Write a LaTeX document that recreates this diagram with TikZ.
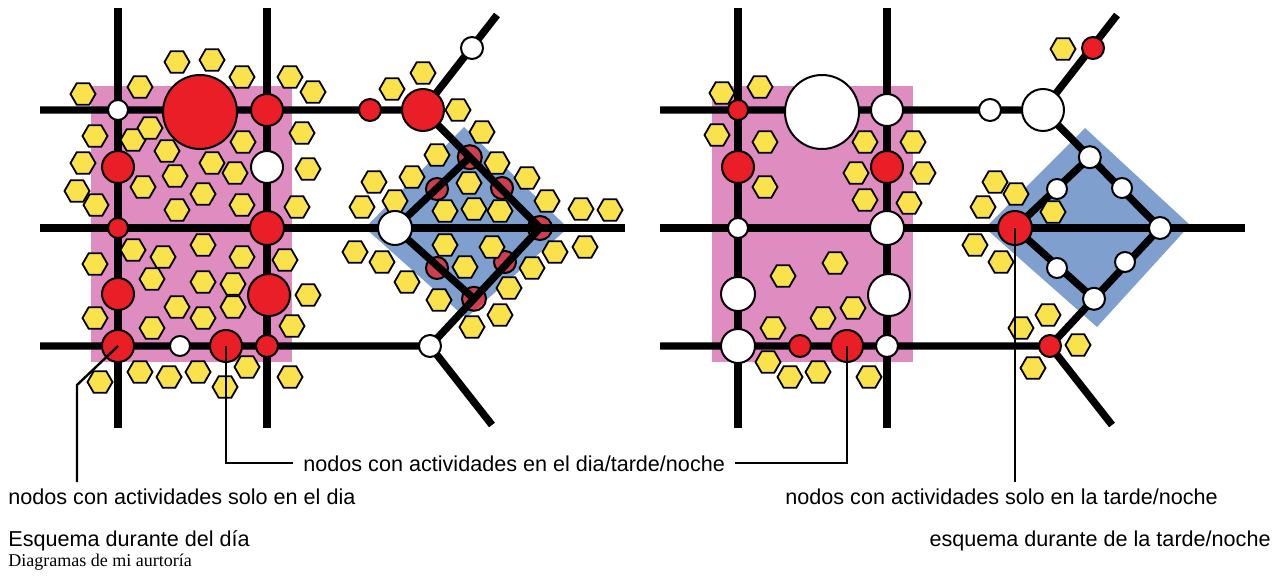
\documentclass[tikz,border=0pt]{standalone}
\usepackage{fontspec}
\setmainfont{Liberation Serif}
\setsansfont{Liberation Sans}
\usetikzlibrary{shapes.geometric, calc}

\definecolor{nodered}{RGB}{233,30,38}
\definecolor{zonepink}{RGB}{223,140,192}
\definecolor{zoneblue}{RGB}{127,160,207}
\definecolor{hexyellow}{RGB}{250,226,76}

\tikzset{
  street/.style={line width=3.7pt, black, line join=round},
  stop/.style={circle, draw=black, line width=1pt, inner sep=0pt, minimum size=#1pt},
  active/.style={stop=#1, fill=nodered},
  idle/.style={stop=#1, fill=white},
  covered/.style={stop=#1, fill=nodered, fill opacity=0.75},
  activity/.style={regular polygon, regular polygon sides=6, draw=black, fill=hexyellow,
    line width=0.9pt, inner sep=0pt, minimum size=12.5pt},
  callout/.style={line width=1.2pt, black},
  caption/.style={font=\sffamily\fontsize{10.8}{13}\selectfont, inner sep=0pt},
}

\begin{document}
\begin{tikzpicture}[x=0.5pt, y=-0.5pt]
    \useasboundingbox (0,0) rectangle (1277,577);

    % Street skeleton, the same for both schemes
    \foreach \p/\dx in {day/0, night/620} {
      \begin{scope}[shift={(\dx,0)}, name prefix=\p-]
        \coordinate (nA) at (118,8);    \coordinate (sA) at (118,428);
        \coordinate (nB) at (267,8);    \coordinate (sB) at (267,428);
        \coordinate (wTop) at (40,110); \coordinate (wMid) at (40,228);
        \coordinate (wLow) at (40,346); \coordinate (eMid) at (625,228);
        \coordinate (hub) at (423,110); \coordinate (ne) at (497,15);
        \coordinate (west) at (395,228); \coordinate (east) at (540,228);
        \coordinate (fork) at (430,346); \coordinate (se) at (492,425);
        \coordinate (top) at ($(hub)!0.4!(east)$);
        \coordinate (bottom) at ($(east)!0.6!(fork)$);
      \end{scope}
    }

    % Zones
    \fill[zonepink] (91,86) rectangle (292,362);
    \fill[zonepink] (712,86) rectangle (913,362);
    \fill[zoneblue] (464,127) -- (568,228) -- (466,318) -- (365,228) -- cycle;
    \fill[zoneblue] (1085,128) -- (1190,225) -- (1097,327) -- (985,228) -- cycle;

    % Day: stops seen through the blue zone
    \begin{scope}[name prefix=day-]
        \node[covered=12] (k2) at (top) {};
        \node[covered=12] (k3) at (east) {};
        \node[covered=12] (k4) at (bottom) {};
        \node[covered=11] (m1) at (437,189) {};
        \node[covered=11] (m2) at (502,188) {};
        \node[covered=11] (m3) at (437,268) {};
        \node[covered=11] (m4) at (505,262) {};
    \end{scope}

    % Streets
    \foreach \p in {day, night} {
      \begin{scope}[name prefix=\p-]
        \draw[street] (nA) -- (sA);
        \draw[street] (nB) -- (sB);
        \draw[street] (wTop) -- (hub) -- (ne);
        \draw[street] (wMid) -- (eMid);
        \draw[street] (wLow) -- (fork) -- (se);
        \draw[street] (hub) -- (top) -- (east) -- (bottom) -- (fork);
        \draw[street] (top) -- (west) -- (bottom);
      \end{scope}
    }

    % Activities (day)
    \foreach \x/\y [count=\i] in {177/62, 212/60, 242/77, 290/77, 313/92, 83/94, 140/87,
        95/136, 133/140, 150/128, 167/151, 243/142, 302/133,
        83/163, 212/163, 235/173, 308/169, 143/187, 175/176, 203/194, 77/191,
        96/205, 177/210, 242/205, 297/207,
        133/250, 163/257, 203/245, 242/257, 285/260, 95/264,
        152/279, 203/282, 233/284, 308/295,
        177/307, 233/307, 203/318, 95/318, 152/328, 292/326,
        140/372, 169/377, 198/372, 247/367, 225/387, 100/382, 290/377,
        423/73, 392/89, 458/110, 482/132, 437/155, 497/163,
        374/182, 412/177, 469/183, 527/178,
        362/207, 395/201, 445/211, 474/209, 500/211, 547/201, 581/209, 610/210,
        355/252, 382/262, 445/245, 492/247, 555/252, 585/247,
        465/267, 532/268, 407/282, 509/288, 439/300, 500/315, 472/327}
        \node[activity] (day-h\i) at (\x,\y) {};

    % Activities (evening/night)
    \foreach \x/\y [count=\i] in {1063/49,
        722/93, 760/87, 717/135, 765/142, 865/142, 913/142,
        765/187, 856/173, 923/173, 865/200, 909/203,
        783/276, 835/263, 853/308, 823/318, 773/328,
        768/362, 790/377, 818/372, 869/377,
        995/182, 1016/194, 983/207, 1053/212,
        975/245, 1001/262, 1048/315, 1021/328, 1078/345, 1033/368}
        \node[activity] (night-h\i) at (\x,\y) {};

    % Day stops
    \begin{scope}[name prefix=day-]
        \node[idle=10] (a1) at (118,110) {};
        \node[active=37] (a2) at (200,112) {};
        \node[active=16] (a3) at (267,110) {};
        \node[active=16] (b1) at (118,167) {};
        \node[idle=16] (b2) at (267,167) {};
        \node[active=10] (c1) at (118,228) {};
        \node[active=17] (c2) at (267,228) {};
        \node[active=16] (d1) at (118,294) {};
        \node[active=21] (d2) at (269,295) {};
        \node[active=16] (e1) at (118,346) {};
        \node[idle=10] (e2) at (180,346) {};
        \node[active=16] (e3) at (226,346) {};
        \node[active=11] (e4) at (267,346) {};
        \node[active=11] (f1) at (370,110) {};
        \node[active=21] (f2) at (hub) {};
        \node[idle=11] (g1) at (472,48) {};
        \node[idle=17] (k1) at (west) {};
        \node[idle=11] (k5) at (fork) {};
    \end{scope}

    % Evening/night stops
    \begin{scope}[shift={(620,0)}, name prefix=night-]
        \node[active=10] (a1) at (118,110) {};
        \node[idle=37] (a2) at (202,112) {};
        \node[idle=16] (a3) at (267,110) {};
        \node[active=16] (b1) at (118,167) {};
        \node[active=16] (b2) at (267,167) {};
        \node[idle=10] (c1) at (118,228) {};
        \node[idle=17] (c2) at (267,228) {};
        \node[idle=17] (d1) at (118,294) {};
        \node[idle=21] (d2) at (269,295) {};
        \node[idle=17] (e1) at (118,346) {};
        \node[active=11] (e2) at (180,346) {};
        \node[active=16] (e3) at (227,346) {};
        \node[idle=11] (e4) at (267,346) {};
        \node[idle=11] (f1) at (370,110) {};
        \node[idle=21] (f2) at (hub) {};
        \node[active=11] (g1) at (473,48) {};
        \node[active=17] (k1) at (west) {};
        \node[idle=11] (k2) at (top) {};
        \node[idle=11] (k3) at (east) {};
        \node[idle=11] (k4) at (bottom) {};
        \node[idle=10] (m1) at (437,189) {};
        \node[idle=10] (m2) at (502,188) {};
        \node[idle=10] (m3) at (437,268) {};
        \node[idle=10] (m4) at (505,262) {};
        \node[active=11] (k5) at (fork) {};
    \end{scope}

    % Captions
    \node[caption, anchor=base west] (midcap) at (303,471) {nodos con actividades en el dia/tarde/noche};
    \node[caption, anchor=base west] (daycap) at (8,504) {nodos con actividades solo en el dia};
    \node[caption, anchor=base west] (nightcap) at (785,504) {nodos con actividades solo en la tarde/noche};
    \node[caption, anchor=base west] (daytitle) at (8,546) {Esquema durante del día};
    \node[caption, anchor=base east] (nighttitle) at (1271,546) {esquema durante de la tarde/noche};
    \node[inner sep=0pt, font=\fontsize{9}{11}\selectfont, anchor=base west] (source) at (8,566) {Diagramas de mi aurtoría};

    % Callouts
    \coordinate (daybend) at (77,385);
    \coordinate (dayfoot) at (77,482);
    \coordinate (nightfoot) at (1015,482);
    \draw[callout] (day-e1.center) -- (daybend) -- (dayfoot);
    \draw[callout] (day-e3.center) |- ([xshift=-5pt]midcap.west);
    \draw[callout] ([xshift=5pt]midcap.east) -| (night-e3.center);
    \draw[callout] (night-k1.center) -- (nightfoot);
\end{tikzpicture}
\end{document}
